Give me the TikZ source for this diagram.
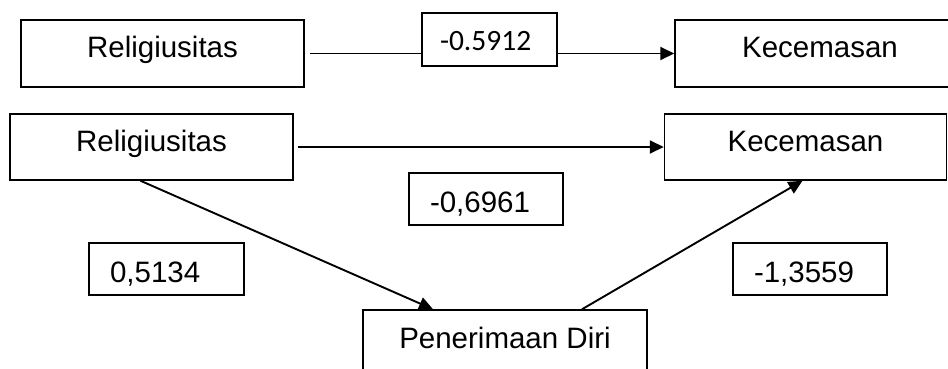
\documentclass[tikz,border=0pt]{standalone}
\usepackage{fontspec}
\setmainfont{Liberation Sans}
\newfontfamily\calfont{Carlito}
\usetikzlibrary{arrows.meta,calc}
\tikzset{
  box/.style={draw=black, line width=1.5pt, inner sep=0pt, text height=21pt, text depth=12pt,
    font=\fontsize{29.5}{34}\selectfont},
  valbox/.style={box, text height=27pt, text depth=0pt, align=left, inner xsep=21pt,
    minimum height=52pt},
  conn/.style={line width=1.9pt},
  arr/.style={conn, -{Triangle[length=14pt,width=13pt]}}
}
\begin{document}
\begin{tikzpicture}[x=1pt,y=-1pt]
\useasboundingbox (0,0) rectangle (948,369);
\clip (0,0) rectangle (948,369);
% top row
\node[box, minimum width=283pt, minimum height=67pt] (r1) at (162.5,53.5) {Religiusitas};
\node[box, minimum width=290pt, minimum height=67pt, text width=272pt, align=center] (c1) at (820,53.5) {Kecemasan};
\node[valbox, inner xsep=18pt, text width=99pt, minimum height=53pt, font=\calfont\fontsize{29.5}{34}\selectfont, text height=23pt, text depth=0pt] (v1) at (489.5,39.5) {-0.5912};
% second model
\node[box, minimum width=283pt, minimum height=66pt] (r2) at (151.5,147) {Religiusitas};
\node[box, minimum width=282pt, minimum height=66pt] (c2) at (805.5,147) {Kecemasan};
\node[valbox, text width=112pt] (v2) at (486,199) {-0,6961};
\node[valbox, text width=113pt] (v3) at (166.5,269) {0,5134};
\node[valbox, text width=112pt] (v4) at (810,269) {-1,3559};
\node[box, minimum width=284pt, minimum height=67pt] (p) at (505,343.5) {Penerimaan Diri};
% connectors
\draw[conn] ([xshift=5pt]r1.east) -- (r1.east -| v1.west);
\draw[arr] (v1.east |- r1.east) -- (c1.west);
\draw[arr] ([xshift=4pt]r2.east) -- (c2.west);
\draw[arr] ([xshift=-11pt]r2.south) -- ([xshift=-72pt]p.north);
\draw[arr] ([xshift=77pt]p.north) -- ([xshift=-3pt]c2.south);
\end{tikzpicture}
\end{document}
